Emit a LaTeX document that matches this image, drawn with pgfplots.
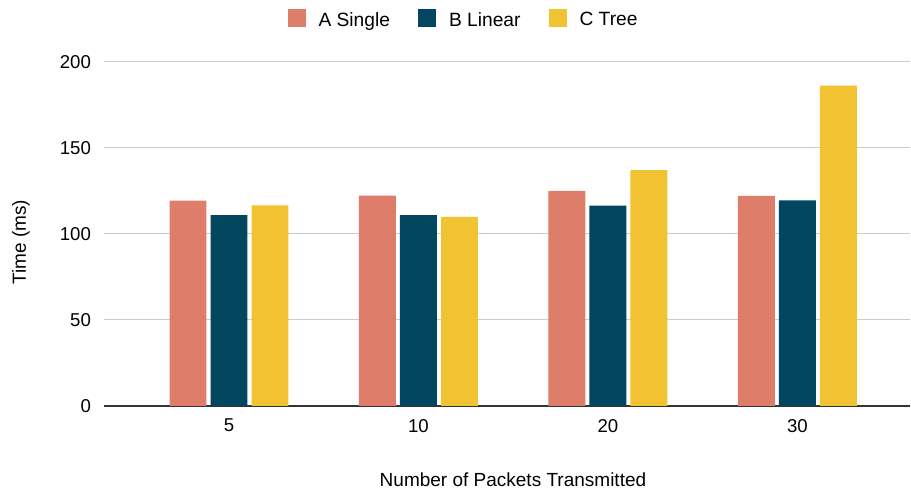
\documentclass[border=0pt]{standalone}
\usepackage{pgfplots}
\pgfplotsset{compat=1.18}
\usepackage{fontspec}
\setmainfont{Liberation Sans}
\definecolor{cA}{HTML}{DF7D6B}
\definecolor{cB}{HTML}{02465F}
\definecolor{cC}{HTML}{F1C232}
\definecolor{gridc}{HTML}{CCCCCC}
\begin{document}
\begin{tikzpicture}
\useasboundingbox (-52pt,-42pt) rectangle (403.5pt,203pt);
\begin{axis}[
  at={(0,0)}, anchor=south west,
  width=403pt, height=172pt, scale only axis,
  xmin=-0.6596, xmax=3.594,
  ymin=0, ymax=200,
  ytick={0,50,100,150,200},
  xtick={0,1,2,3},
  xticklabels={5,10,20,30},
  ymajorgrids, grid style={gridc, line width=0.5pt},
  axis x line*=bottom, axis y line*=left,
  y axis line style={draw=none},
  x axis line style={draw=black!80, line width=0.6pt},
  major tick length=0pt,
  /pgf/number format/assume math mode=true,
  tick label style={font=\fontsize{9.3}{11}\selectfont},
  yticklabel style={xshift=-3pt},
  xticklabel style={yshift=-3pt},
  xlabel={Number of Packets Transmitted},
  ylabel={Time (ms)},
  label style={font=\fontsize{9.5}{11}\selectfont},
  xlabel style={at={(axis description cs:0.5074,-0.2326)}, anchor=base},
  ylabel style={at={(axis description cs:-0.103,0.4756)}, anchor=center},
  ybar, bar width=0.195,
  legend style={at={(axis description cs:0.4473,1.12)}, anchor=center, draw=none,
    font=\fontsize{9.6}{11}\selectfont,
    /tikz/every even column/.append style={column sep=12pt}},
  legend columns=-1,
]
\addplot[fill=cA, draw=none, bar shift=-0.2164,
  legend image code/.code={\fill[cA] (0pt,-3pt) rectangle (9pt,6pt); \path (13.5pt,0pt);}]
  coordinates {(0,119.4) (1,122.3) (2,125.0) (3,122.1)};
\addplot[fill=cB, draw=none, bar shift=0,
  legend image code/.code={\fill[cB] (0pt,-3pt) rectangle (9pt,6pt); \path (13.5pt,0pt);}]
  coordinates {(0,111.0) (1,111.0) (2,116.5) (3,119.5)};
\addplot[fill=cC, draw=none, bar shift=0.2164,
  legend image code/.code={\fill[cC] (0pt,-3pt) rectangle (9pt,6pt); \path (13.5pt,0pt);}]
  coordinates {(0,116.7) (1,110.0) (2,137.2) (3,186.2)};
\legend{A Single, B Linear, C Tree}
\end{axis}
\end{tikzpicture}
\end{document}
